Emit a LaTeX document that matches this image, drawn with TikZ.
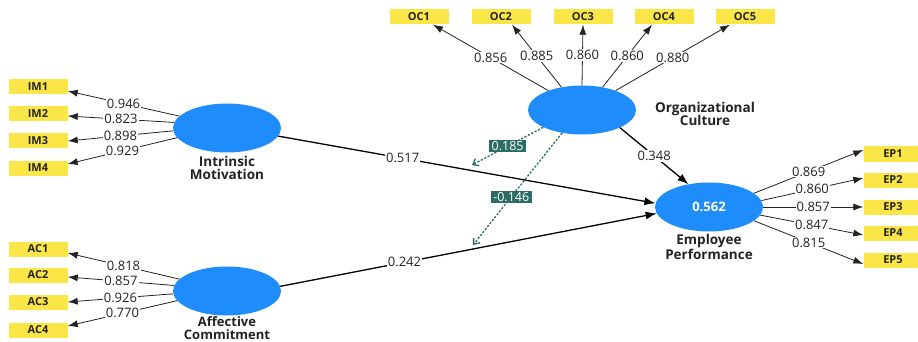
\documentclass[tikz,border=0pt]{standalone}
\usepackage{fontspec}
\setmainfont{Open Sans}
\usetikzlibrary{shapes.geometric,arrows.meta}
\definecolor{latent}{RGB}{30,140,250}
\definecolor{indic}{RGB}{250,230,70}
\definecolor{modcol}{RGB}{44,108,102}
\definecolor{txt}{RGB}{35,35,35}
\tikzset{
  lv/.style={ellipse,fill=latent,draw=none,minimum width=108pt,minimum height=49pt,inner sep=0pt,text=white,font=\bfseries\fontsize{13}{14}\selectfont},
  ind/.style={rectangle,fill=indic,draw=none,minimum width=59pt,minimum height=15pt,inner sep=0pt,font=\bfseries\fontsize{11}{12}\selectfont,text=txt},
  lvname/.style={align=center,font=\bfseries\fontsize{13.5}{13.5}\selectfont,text=txt,inner sep=0pt},
  ld/.style={draw=txt,line width=0.8pt,-{Latex[length=10pt,width=7pt]}},
  path/.style={draw=black,line width=1.3pt,-{Latex[length=11pt,width=8pt]}},
  num/.style={fill=white,inner sep=1pt,font=\fontsize{13}{13}\selectfont,text=txt},
  modline/.style={draw=modcol,line width=1.3pt,dash pattern=on 2.2pt off 1.6pt,-{Straight Barb[length=5pt,width=8pt]}},
  modlab/.style={fill=modcol,text=white,inner xsep=2.5pt,inner ysep=1.2pt,font=\fontsize{12.5}{12.5}\selectfont}
}
\begin{document}
\begin{tikzpicture}[x=1pt,y=-1pt]
\useasboundingbox[fill=white] (0,0) rectangle (918,342);

% latent variables
\node[lv] (im) at (227,128) {};
\node[lv] (ac) at (227,291) {};
\node[lv] (oc) at (582,110) {};
\node[lv] (ep) at (709,207) {0.562};

\node[lvname] (imlab) at (227,168) {Intrinsic\\Motivation};
\node[lvname,font=\bfseries\fontsize{13}{13}\selectfont] (aclab) at (227,328) {Affective\\Commitment};
\node[lvname] (oclab) at (705,114) {Organizational\\Culture};
\node[lvname] (eplab) at (709,247) {Employee\\Performance};

% indicators
\node[ind] (im1) at (38,87) {IM1};
\node[ind] (im2) at (38,114) {IM2};
\node[ind] (im3) at (38,141) {IM3};
\node[ind] (im4) at (38,168) {IM4};
\node[ind] (ac1) at (38,249) {AC1};
\node[ind] (ac2) at (38,275) {AC2};
\node[ind] (ac3) at (38,302) {AC3};
\node[ind] (ac4) at (38,330) {AC4};
\node[ind] (oc1) at (419,17) {OC1};
\node[ind] (oc2) at (501,17) {OC2};
\node[ind] (oc3) at (583,17) {OC3};
\node[ind] (oc4) at (664,17) {OC4};
\node[ind] (oc5) at (745,17) {OC5};
\node[ind] (ep1) at (893,154) {EP1};
\node[ind] (ep2) at (893,180) {EP2};
\node[ind] (ep3) at (893,207) {EP3};
\node[ind] (ep4) at (893,233) {EP4};
\node[ind] (ep5) at (893,260) {EP5};

% outer loadings
\draw[ld] (im.166) -- node[num] {0.946} ([yshift=-4pt]im1.east);
\draw[ld] (im.174) -- node[num] {0.823} ([yshift=-2pt]im2.east);
\draw[ld] (im.183) -- node[num] {0.898} (im3.east);
\draw[ld] (im.191) -- node[num] {0.929} ([yshift=4pt]im4.east);
\draw[ld] (ac.166) -- node[num] {0.818} ([yshift=-4pt]ac1.east);
\draw[ld] (ac.174) -- node[num] {0.857} ([yshift=-2pt]ac2.east);
\draw[ld] (ac.183) -- node[num] {0.926} (ac3.east);
\draw[ld] (ac.191) -- node[num] {0.770} ([yshift=4pt]ac4.east);
\draw[ld] (oc.150) -- node[num] {0.856} ([xshift=14pt]oc1.south);
\draw[ld] (oc.132) -- node[num] {0.885} ([xshift=11pt]oc2.south);
\draw[ld] (oc.90) -- node[num] {0.860} (oc3.south);
\draw[ld] (oc.48) -- node[num] {0.860} ([xshift=-12pt]oc4.south);
\draw[ld] (oc.30) -- node[num] {0.880} ([xshift=-15pt]oc5.south);
\draw[ld] (ep.17) -- node[num] {0.869} ([yshift=4pt]ep1.west);
\draw[ld] (ep.7) -- node[num] {0.860} ([yshift=2pt]ep2.west);
\draw[ld] (ep.0) -- node[num] {0.857} (ep3.west);
\draw[ld] (ep.-9) -- node[num] {0.847} ([yshift=-2pt]ep4.west);
\draw[ld] (ep.-17) -- node[num] {0.815} ([yshift=-4pt]ep5.west);

% structural paths
\draw[path] (im.-9) -- node[num,pos=0.33] {0.517} (ep.176);
\draw[path] (ac.5) -- node[num,pos=0.33] {0.242} (ep.187);
\draw[path] (oc.-25) -- node[num] {0.348} (ep.132);

% moderating effects
\coordinate (m1) at (472,165);
\coordinate (m2) at (473,245);
\draw[modline] (oc.204) -- node[modlab] {0.185} (m1);
\draw[modline] (oc.229) -- node[modlab,pos=0.57] {-0.146} (m2);
\end{tikzpicture}
\end{document}
